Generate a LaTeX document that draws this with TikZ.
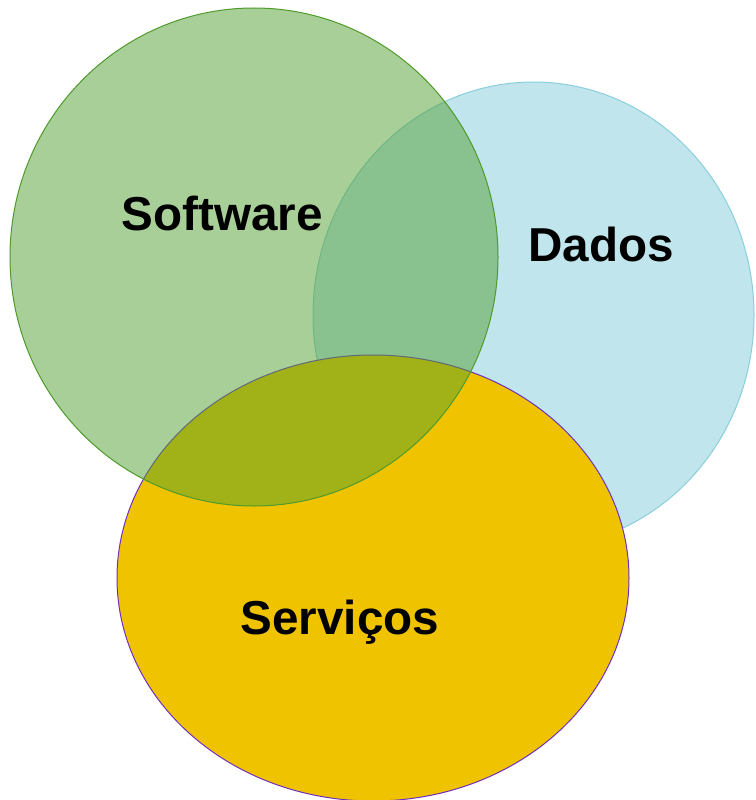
\documentclass[tikz,border=0pt]{standalone}
\usepackage{fontspec}
\setmainfont{Liberation Sans}
\usetikzlibrary{shapes.geometric}
\definecolor{gfill}{HTML}{53A031}
\definecolor{gline}{HTML}{4E9A2A}
\definecolor{bfill}{HTML}{C0E5EC}
\definecolor{bline}{HTML}{8ACFDB}
\definecolor{yfill}{HTML}{F0C300}
\definecolor{yline}{HTML}{7030C0}
\tikzset{
  blob/.style={ellipse, inner sep=0pt, line width=1pt},
  lbl/.style={font=\fontsize{47.6}{57}\selectfont\bfseries, text=black, inner sep=0pt}
}
\begin{document}
\begin{tikzpicture}[x=1pt,y=-1pt]
\useasboundingbox (0,0) rectangle (755,800);
\node[blob, draw=bline, fill=bfill, minimum width=441pt, minimum height=466pt] (dados) at (533.5,315) {};
\node[blob, draw=yline, fill=yfill, minimum width=512pt, minimum height=446pt] (serv) at (373,578) {};
\node[blob, draw=gline, fill=gfill, fill opacity=0.5, minimum width=488pt, minimum height=498pt] (soft) at (254,257) {};
\node[lbl] (tsoft) at (222,213) {Software};
\node[lbl] (tdados) at (601,244) {Dados};
\node[lbl] (tserv) at (340,622) {Serviços};
\end{tikzpicture}
\end{document}
